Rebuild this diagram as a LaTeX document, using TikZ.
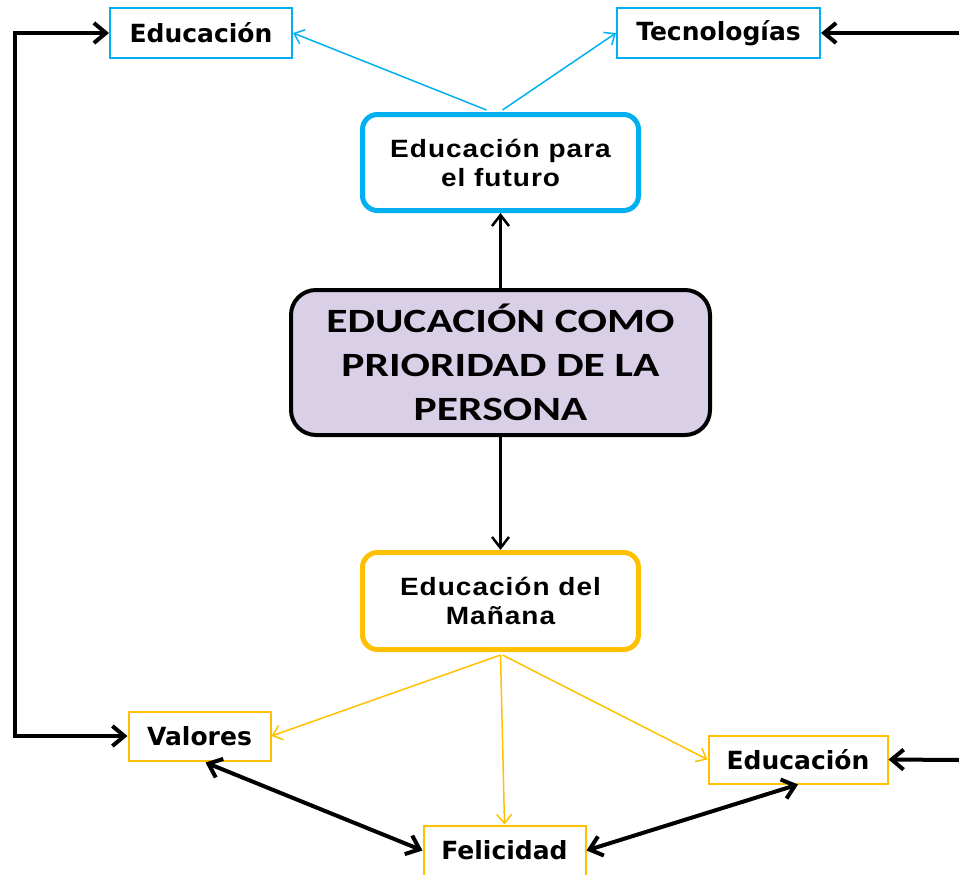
\documentclass[tikz,border=0pt]{standalone}
\usepackage{fontspec}
\usetikzlibrary{arrows.meta,calc}
\newfontfamily\vfont{DejaVu Sans}
\newfontfamily\afont{Liberation Sans}[FakeStretch=1.12,LetterSpace=4]
\newfontfamily\cfont{Carlito}[FakeStretch=1.28]
\definecolor{cyanc}{RGB}{0,176,240}
\definecolor{yelc}{RGB}{255,192,0}
\definecolor{lavc}{RGB}{217,208,232}
\tikzset{
  smallbox/.style={draw, line width=2pt, inner sep=0pt, font=\vfont\bfseries\fontsize{25}{28}\selectfont},
  bigbox/.style={draw, line width=5pt, rounded corners=15pt, fill=white, inner sep=0pt, align=center,
    minimum width=276pt, minimum height=97pt, font=\afont\bfseries\fontsize{25}{29}\selectfont},
  thickarrow/.style={line width=4pt, -{Straight Barb[length=12pt,width=20pt]}},
  thickboth/.style={line width=4pt, {Straight Barb[length=12pt,width=20pt]}-{Straight Barb[length=12pt,width=20pt]}},
  midarrow/.style={line width=2.5pt, -{Straight Barb[length=11pt,width=17pt]}},
  thinarrow/.style={line width=1.5pt, -{Straight Barb[length=9pt,width=15pt]}},
}
\begin{document}
\begin{tikzpicture}[x=1pt,y=-1pt]
\useasboundingbox (0,0) rectangle (959,875);
% nodes
\node[smallbox, draw=cyanc, minimum width=182pt, minimum height=50pt] (eduTop) at (201,33) {Educación};
\node[smallbox, draw=cyanc, minimum width=203pt, minimum height=50pt] (tec) at (718.5,33) {Tecnologías};
\node[bigbox, draw=cyanc, minimum height=96pt] (futuro) at (500.5,162.5) {Educación para\\el futuro};
\node[draw=black, line width=4pt, rounded corners=25pt, fill=lavc, inner sep=0pt, align=center,
  minimum width=419pt, minimum height=145pt, font=\cfont\bfseries\fontsize{34}{44}\selectfont]
  (main) at (500.5,362.5) {EDUCACIÓN COMO\\PRIORIDAD DE LA\\PERSONA};
\node[bigbox, draw=yelc] (manana) at (500.5,601) {Educación del\\Mañana};
\node[smallbox, draw=yelc, minimum width=142pt, minimum height=49pt] (valores) at (199.5,736) {Valores};
\node[smallbox, draw=yelc, minimum width=162pt, minimum height=50pt] (felicidad) at (504.5,850.5) {Felicidad};
\node[smallbox, draw=yelc, minimum width=179pt, minimum height=48pt] (eduBot) at (798,759.5) {Educación};
% free ends
\coordinate (cL1) at (15,33);
\coordinate (cL2) at (15,736);
\coordinate (cR1) at (959,33);
\coordinate (cR2) at (959,760);
% connectors
\draw[thickboth] (eduTop.west) -- (cL1) -- (cL2) -- (valores.west);
\draw[thickarrow] (cR1) -- (tec.east);
\draw[thickarrow] (cR2) -- (eduBot.east);
\draw[midarrow] (main.north) -- (futuro.south);
\draw[midarrow] (main.south) -- (manana.north);
\draw[thinarrow, cyanc] ($(futuro.north)+(-14,-2)$) -- (eduTop.east);
\draw[thinarrow, cyanc] ($(futuro.north)+(2,-2)$) -- (tec.west);
\draw[thinarrow, yelc] ($(manana.south)+(0,3)$) -- (valores.east);
\draw[thinarrow, yelc] ($(manana.south)+(0,3)$) -- (felicidad.north);
\draw[thinarrow, yelc] ($(manana.south)+(2,3)$) -- (eduBot.west);
\draw[thickboth] ($(valores.south)+(6,1)$) -- (felicidad.west);
\draw[thickboth] (felicidad.east) -- (eduBot.south);
\end{tikzpicture}
\end{document}
